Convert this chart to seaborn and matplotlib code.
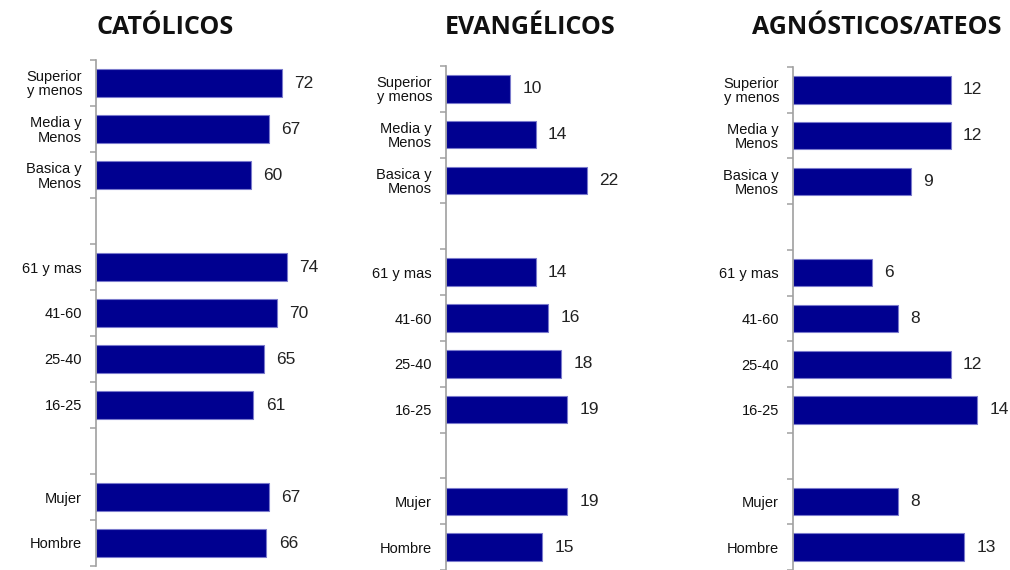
import pandas as pd
import seaborn as sns
import matplotlib.pyplot as plt
import numpy as np

# Categories (blank entries are the gaps between groups)
categories = ["Superior\ny menos", "Media y\nMenos", "Basica y\nMenos", " ",
              "61 y mas", "41-60", "25-40", "16-25", "  ",
              "Mujer", "Hombre"]
labels_real = ["Superior\ny menos", "Media y\nMenos", "Basica y\nMenos",
               "61 y mas", "41-60", "25-40", "16-25", "Mujer", "Hombre"]

catolicos = [72, 67, 60, 74, 70, 65, 61, 67, 66]
evangelicos = [10, 14, 22, 14, 16, 18, 19, 19, 15]
agnosticos = [12, 12, 9, 6, 8, 12, 14, 8, 13]

titles = ["CATÓLICOS", "EVANGÉLICOS", "AGNÓSTICOS/ATEOS"]

sns.set_style("white")
plt.rcParams["font.family"] = ["Liberation Sans", "DejaVu Sans"]

fig = plt.figure(figsize=(10.1, 5.7), dpi=100)

# axes boxes in pixels: left, top, width, height, xmax
boxes = [(96, 60, 234, 506, 90.7),
         (446, 66, 234, 504, 36.6),
         (793, 67, 210, 503, 16.0)]
title_x = [165, 530, 877]

for vals, title, box, tx in zip([catolicos, evangelicos, agnosticos], titles, boxes, title_x):
    left, top, w, h, xmax = box
    ax = fig.add_axes([left / 1010, 1 - (top + h) / 570, w / 1010, h / 570])
    df = pd.DataFrame({"cat": labels_real, "val": vals})
    sns.barplot(data=df, y="cat", x="val", order=categories, ax=ax,
                color="#000090", saturation=1, width=0.6,
                edgecolor="#7a7acc", linewidth=0.8)
    for c in ax.containers:
        ax.bar_label(c, fmt="%d", padding=9, fontsize=12.5, color="#222222")
    ax.set_xlim(0, xmax)
    ax.set_ylim(len(categories) - 0.5, -0.5)
    ax.set_xlabel("")
    ax.set_ylabel("")
    ax.set_xticks([])
    ax.set_yticks(range(len(categories)))
    ax.set_yticklabels(categories, fontsize=10.5, color="#111111", linespacing=1.0)
    ax.set_yticks(np.arange(-0.5, len(categories), 1), minor=True)
    ax.tick_params(axis="y", which="both", left=True)
    ax.tick_params(axis="y", which="major", length=0, pad=10)
    ax.tick_params(axis="y", which="minor", length=4, width=1.1, color="#a0a0a0", direction="out")
    for s in ["top", "right", "bottom"]:
        ax.spines[s].set_visible(False)
    ax.spines["left"].set_color("#a0a0a0")
    ax.spines["left"].set_linewidth(1.2)
    fig.text(tx / 1010, 1 - 28 / 570, title, ha="center", va="center",
             fontsize=18, fontweight="bold", family="Open Sans", color="#111111")

fig.savefig("out.png", dpi=100)
